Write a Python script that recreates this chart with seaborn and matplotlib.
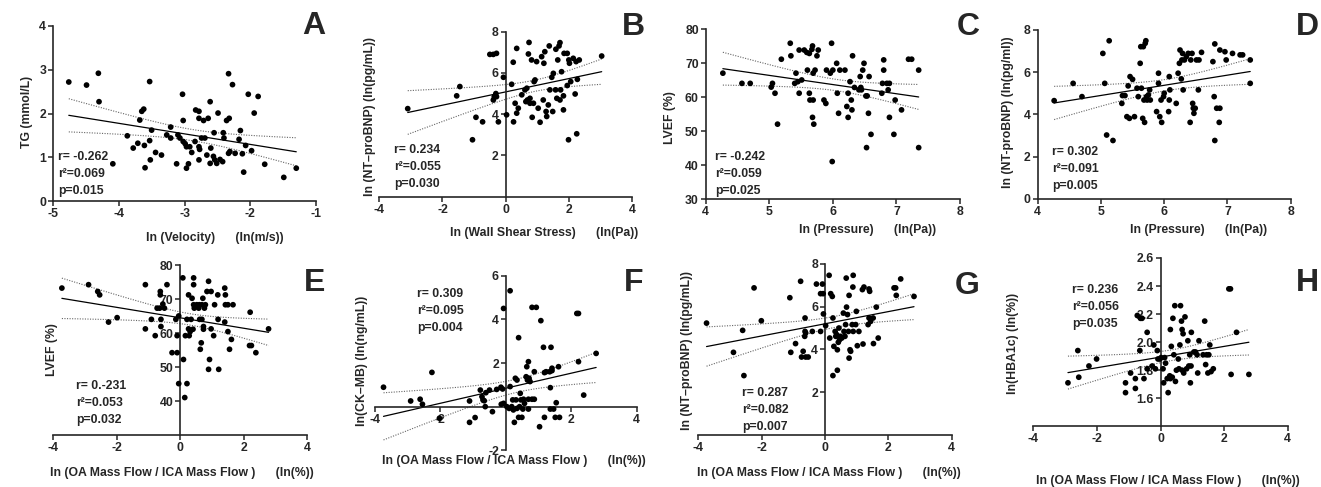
import numpy as np
import matplotlib
matplotlib.use("Agg")
import matplotlib.pyplot as plt
import seaborn as sns

# ---- data ----
# A: TG vs ln(velocity)
a_x = [-4.76,-4.49,-4.31,-4.30,-4.09,-3.87,-3.68,-3.65,-3.62,-3.78,-3.71,-3.61,-3.60,-3.53,-3.53,-3.52,-3.50,-3.44,-3.35,-3.27,
       -3.21,-3.21,-3.12,-3.10,-3.07,-3.03,-3.02,-3.02,-2.99,-2.97,-2.94,-2.97,-2.92,-2.89,-2.84,-2.83,-2.78,-2.78,-2.78,-2.77,
       -2.78,-2.74,-2.71,-2.69,-2.66,-2.64,-2.61,-2.61,-2.60,-2.56,-2.55,-2.54,-2.51,-2.49,-2.46,-2.42,-2.41,-2.40,-2.36,-2.33,
       -2.33,-2.32,-2.31,-2.27,-2.23,-2.17,-2.15,-2.12,-2.10,-2.07,-2.03,-1.98,-1.94,-1.88,-1.78,-1.49,-1.30]
a_y = [2.72,2.65,2.92,2.27,0.85,1.49,1.85,2.05,2.10,1.21,1.32,1.27,0.76,1.38,2.73,0.94,1.62,1.11,1.05,1.51,
       1.69,1.44,0.85,1.51,1.44,2.44,1.84,1.36,1.31,1.24,0.85,0.75,1.24,1.11,1.36,2.08,2.05,1.89,1.24,1.18,
       0.94,1.44,1.84,1.44,1.05,1.89,2.27,0.86,1.21,1.02,1.56,0.94,0.86,2.01,0.95,0.90,1.56,1.44,1.84,2.91,
       1.09,1.89,1.13,2.66,1.09,1.41,1.61,1.08,0.66,1.27,2.44,1.15,2.01,2.39,0.84,0.54,0.75]

# B: NT-proBNP vs ln(wall shear stress)
b_x = [-3.10,-1.55,-1.45,-1.05,-0.94,-0.73,-0.50,-0.39,-0.29,-0.39,-0.36,-0.31,-0.29,-0.23,-0.07,0.03,0.19,0.24,0.25,0.30,
       0.35,0.35,0.40,0.51,0.61,0.64,0.67,0.69,0.72,0.74,0.77,0.77,0.82,0.84,0.88,0.90,0.93,0.98,1.03,1.09,
       1.14,1.19,1.21,1.24,1.28,1.30,1.35,1.38,1.40,1.46,1.49,1.51,1.58,1.59,1.62,1.65,1.69,1.72,1.72,1.74,
       1.77,1.83,1.83,1.85,1.95,1.95,1.99,2.00,2.02,2.06,2.14,2.20,2.23,2.25,2.27,2.33,3.04]
b_y = [4.27,4.89,5.34,2.76,3.85,3.63,6.90,6.90,6.95,4.69,4.85,5.00,4.85,3.63,5.79,3.97,5.45,6.52,3.63,4.53,
       7.19,4.05,4.29,4.94,5.18,4.61,5.26,4.69,6.92,7.48,4.53,4.77,6.63,3.85,4.53,5.58,5.66,6.55,4.29,3.61,
       6.79,4.69,6.47,7.03,4.13,3.89,4.45,7.31,5.18,5.79,4.13,5.98,5.18,7.15,4.77,6.63,7.31,7.47,4.69,5.18,
       6.06,4.89,4.21,6.95,6.95,5.39,2.76,6.63,6.47,5.58,6.71,4.98,6.55,3.05,5.69,6.63,6.82]

# C: LVEF vs ln(pressure)
c_x = [4.27,4.57,4.70,5.03,5.05,5.09,5.13,5.19,5.33,5.34,5.40,5.42,5.45,5.47,5.47,5.51,5.55,5.59,5.60,5.63,
       5.63,5.64,5.67,5.68,5.68,5.69,5.69,5.70,5.72,5.75,5.77,5.86,5.89,5.90,5.96,5.98,5.99,6.00,6.06,6.07,
       6.09,6.11,6.19,6.22,6.24,6.24,6.27,6.29,6.30,6.31,6.34,6.41,6.43,6.44,6.45,6.47,6.49,6.52,6.53,6.54,
       6.56,6.57,6.60,6.77,6.78,6.80,6.80,6.85,6.87,6.89,6.89,6.98,6.96,7.08,7.19,7.24,7.35,7.35]
c_y = [67.1,64.1,64.1,63.0,64.1,61.2,52.1,71.2,75.9,72.2,64.1,67.1,64.6,61.2,73.9,65.1,73.9,73.2,68.0,72.9,
       61.2,59.2,74.1,75.1,54.1,59.2,67.1,52.1,68.0,72.2,73.9,59.2,58.2,68.0,67.1,75.9,41.1,68.0,70.0,61.2,
       55.3,68.0,68.0,57.3,61.2,54.1,64.6,59.2,56.3,72.2,62.9,62.2,66.1,62.9,62.2,68.0,70.0,60.4,45.2,60.4,
       55.3,66.1,49.1,61.2,64.1,68.0,71.0,64.1,62.2,64.1,54.1,59.2,49.1,56.3,71.2,71.2,45.2,68.0]

# D: NT-proBNP vs ln(pressure)
d_x = [4.26,4.56,4.70,5.03,5.06,5.09,5.13,5.19,5.33,5.34,5.38,5.41,5.43,5.45,5.46,5.50,5.53,5.57,5.59,5.62,
       5.63,5.64,5.66,5.67,5.68,5.69,5.70,5.71,5.72,5.73,5.75,5.77,5.78,5.88,5.91,5.91,5.93,5.95,5.96,5.99,
       6.00,6.07,6.08,6.08,6.09,6.19,6.22,6.24,6.25,6.27,6.28,6.29,6.30,6.32,6.35,6.38,6.41,6.42,6.44,6.45,
       6.46,6.47,6.49,6.51,6.54,6.55,6.59,6.77,6.79,6.80,6.80,6.83,6.87,6.88,6.88,6.96,6.98,7.08,7.20,7.24,
       7.36,7.36]
d_y = [4.65,5.47,4.84,6.89,5.47,3.02,7.49,2.76,4.52,4.89,4.89,3.89,5.35,3.81,5.79,5.66,3.89,5.24,4.84,6.42,
       7.21,5.24,3.81,7.21,4.68,3.62,7.37,7.49,4.84,4.68,4.92,5.16,4.68,4.13,5.47,5.95,3.89,4.68,3.62,4.84,
       5.00,4.13,4.68,5.79,5.16,4.52,5.95,6.42,7.05,5.68,6.58,6.89,5.16,6.58,6.74,6.89,3.62,6.58,6.89,4.52,
       4.29,4.05,4.29,6.58,5.16,6.58,6.94,6.50,4.84,2.76,7.34,4.29,3.62,4.29,7.05,6.97,6.58,6.89,6.82,6.82,
       6.58,5.47]

# E: LVEF vs ln(OA/ICA mass flow)
e_x = [-3.73,-2.89,-2.60,-2.54,-2.26,-1.99,-1.10,-1.10,-0.79,-0.73,-0.65,-0.63,-0.63,-0.61,-0.61,-0.55,-0.50,-0.42,-0.91,-0.26,
       -0.10,-0.14,-0.10,-0.05,-0.05,0.08,0.10,0.14,0.21,0.16,0.21,0.26,0.26,0.28,0.31,0.34,0.37,0.40,0.42,0.42,
       0.42,0.44,0.52,0.58,0.60,0.61,0.63,0.66,0.68,0.68,0.71,0.73,0.73,0.76,0.79,0.84,0.89,0.89,0.92,0.97,
       0.97,1.05,1.08,1.18,1.19,1.21,1.40,1.40,1.42,1.42,1.50,1.50,1.55,1.61,1.66,2.20,2.18,2.24,2.38,2.78]
e_y = [73.3,74.3,72.3,71.3,63.3,64.6,74.3,61.3,59.3,67.4,67.4,72.3,71.3,64.1,62.0,68.6,67.4,74.3,64.1,54.3,
       54.3,64.1,59.3,45.2,65.1,76.3,52.3,41.1,45.2,59.3,64.1,71.3,61.3,59.3,60.5,64.1,70.3,61.2,76.3,74.3,
       68.4,67.4,68.4,67.4,68.4,64.1,55.3,57.2,64.1,68.4,70.3,61.2,62.0,67.4,68.4,72.3,75.3,49.4,52.3,72.3,
       61.3,59.3,68.4,71.3,64.1,49.4,73.3,63.3,71.3,68.4,68.4,60.5,55.3,58.2,68.4,66.2,56.4,56.4,54.3,61.3]

# F: CK-MB vs ln(OA/ICA mass flow)
f_x = [-3.74,-2.91,-2.62,-2.55,-2.26,-2.03,-1.11,-1.11,-0.94,-0.78,-0.73,-0.70,-0.66,-0.63,-0.61,-0.50,-0.41,-0.28,-0.15,-0.10,
       -0.14,-0.07,-0.07,0.13,0.13,0.03,0.10,0.18,0.21,0.23,0.26,0.29,0.31,0.34,0.34,0.39,0.39,0.42,0.44,0.46,
       0.49,0.52,0.54,0.57,0.62,0.64,0.66,0.69,0.69,0.71,0.74,0.80,0.80,0.87,0.87,0.93,1.03,1.07,1.18,1.18,
       1.23,1.15,1.34,1.36,1.36,1.38,1.41,1.41,1.46,1.51,1.54,1.61,1.64,2.17,2.22,2.22,2.38,2.76,0.69]
f_y = [0.89,0.26,0.34,0.11,1.57,-0.53,-0.72,0.26,-0.50,0.76,0.46,0.31,0.27,0.00,0.64,0.76,-0.23,0.79,0.89,0.81,
       0.11,0.15,4.50,5.31,0.92,0.00,-0.08,0.00,0.31,-0.15,-0.72,1.30,0.31,1.22,-0.08,-0.49,3.16,0.00,0.61,0.31,
       -0.49,-0.11,0.34,0.15,1.37,1.83,1.22,2.06,0.34,1.30,1.15,4.55,0.34,1.60,0.34,4.55,-0.92,3.94,1.56,-0.49,
       1.60,2.72,1.60,0.87,-0.11,2.72,1.76,1.65,-0.11,-0.49,0.18,1.83,-0.49,4.27,4.27,2.06,0.53,2.44,-0.11]

# G: NT-proBNP vs ln(OA/ICA mass flow)
g_x = [-3.74,-2.89,-2.60,-2.56,-2.24,-2.01,-1.11,-1.08,-0.93,-0.77,-0.74,-0.69,-0.64,-0.63,-0.63,-0.61,-0.61,-0.53,-0.40,-0.27,
       -0.14,-0.08,-0.06,-0.05,-0.14,0.02,0.13,0.15,0.18,0.23,0.25,0.25,0.28,0.32,0.34,0.37,0.39,0.39,0.42,0.44,
       0.46,0.49,0.53,0.58,0.60,0.63,0.65,0.67,0.68,0.71,0.74,0.76,0.76,0.79,0.81,0.86,0.88,0.89,0.89,0.97,
       0.99,1.02,1.07,1.18,1.20,1.23,1.36,1.39,1.39,1.41,1.44,1.52,1.53,1.62,1.68,2.18,2.23,2.25,2.39,2.81]
g_y = [5.23,3.86,4.89,2.77,6.88,5.34,6.42,3.86,4.27,7.19,3.64,3.91,4.61,4.84,5.47,3.64,4.77,3.64,4.84,7.06,
       6.61,7.06,6.61,5.66,4.84,5.11,7.47,4.53,6.61,6.48,5.47,2.77,4.14,4.84,4.61,4.69,3.02,3.98,4.33,5.00,
       4.45,4.61,4.53,5.70,4.84,4.61,5.16,7.34,5.98,5.63,4.84,3.59,6.53,3.98,3.91,5.16,6.92,7.47,4.84,5.16,
       5.78,4.17,4.84,6.80,4.25,6.92,5.16,6.83,5.47,6.72,5.31,5.47,4.27,5.98,4.53,6.88,6.88,6.53,7.30,6.48]

# H: HBA1c vs ln(OA/ICA mass flow)
h_x = [-2.91,-2.60,-2.57,-2.25,-2.01,-1.10,-1.10,-0.94,-0.79,-0.79,-0.73,-0.65,-0.63,-0.58,-0.52,-0.42,-0.42,-0.26,-0.21,-0.16,
       -0.10,-0.08,-0.02,0.02,0.08,0.10,0.13,0.16,0.21,0.24,0.29,0.31,0.31,0.34,0.37,0.39,0.42,0.45,0.47,0.50,
       0.56,0.58,0.61,0.63,0.66,0.68,0.68,0.71,0.73,0.77,0.82,0.86,0.89,0.92,0.94,0.96,0.97,1.05,1.10,1.15,
       1.17,1.21,1.34,1.39,1.42,1.45,1.49,1.52,1.55,1.59,1.66,2.15,2.20,2.22,2.39,2.78]
h_y = [1.71,1.94,1.75,1.83,1.88,1.71,1.64,1.78,1.74,1.67,2.19,1.94,2.17,2.17,1.74,2.07,1.81,1.83,1.98,1.81,
       1.94,1.88,1.88,1.89,1.81,1.71,1.89,1.85,1.74,1.64,1.76,2.09,1.74,1.97,1.75,2.17,1.91,2.26,1.72,1.80,
       1.88,1.81,1.98,2.26,2.15,1.80,2.09,2.06,1.78,2.18,1.81,2.01,1.83,1.91,1.71,1.83,2.07,1.93,1.93,1.91,
       1.78,2.01,1.91,2.15,1.84,1.91,1.78,1.91,1.98,1.79,1.81,2.38,2.38,1.77,2.07,1.77]

W, H = 1321, 487
FS = 8.8
BOLD = dict(fontsize=FS, fontweight="bold")
GAP = "      "   # wide gap Prism leaves before the unit part of the label

sns.set_theme(style="ticks")
plt.rcParams["font.family"] = ["Liberation Sans", "DejaVu Sans"]
plt.rcParams["font.weight"] = "bold"
plt.rcParams["axes.unicode_minus"] = False

fig = plt.figure(figsize=(W / 100, H / 100), dpi=100)


def px_box(l, r, t, b):
    return [l / W, 1 - b / H, (r - l) / W, (b - t) / H]


def ftext(x, y, s, **kw):
    fig.text(x / W, 1 - y / H, s, **kw)


def fit_lines(ax, x, y):
    # linear fit plus 95% confidence band (Prism style dotted curves)
    x = np.asarray(x, float)
    y = np.asarray(y, float)
    n = len(x)
    slope, icpt = np.polyfit(x, y, 1)
    xs = np.linspace(x.min(), x.max(), 120)
    yh = icpt + slope * xs
    s = np.sqrt(((y - (icpt + slope * x)) ** 2).sum() / (n - 2))
    se = s * np.sqrt(1 / n + (xs - x.mean()) ** 2 / ((x - x.mean()) ** 2).sum())
    ax.plot(xs, yh, color="black", lw=0.9, zorder=2)
    for sign in (1, -1):
        ax.plot(xs, yh + sign * 1.99 * se, color="#666666", lw=0.8,
                ls=(0, (1, 1.3)), zorder=2)


def panel(box, x, y, xlim, ylim, xticks, yticks, xcross=None, ycross=None):
    ax = fig.add_axes(px_box(*box))
    sns.scatterplot(x=x, y=y, ax=ax, color="black", s=17, edgecolor="none", zorder=3)
    fit_lines(ax, x, y)
    ax.set_xlim(*xlim)
    ax.set_ylim(*ylim)
    ax.set_xticks(xticks)
    ax.set_yticks(yticks)
    ax.set_xlabel("")
    ax.set_ylabel("")
    for side in ("top", "right"):
        ax.spines[side].set_visible(False)
    for side in ("left", "bottom"):
        ax.spines[side].set_linewidth(1.2)
    if xcross is not None:
        ax.spines["left"].set_position(("data", xcross))
    if ycross is not None:
        ax.spines["bottom"].set_position(("data", ycross))
    ax.tick_params(width=1.1, length=3.5, labelsize=FS, pad=1.5)
    for lab in ax.get_xticklabels() + ax.get_yticklabels():
        lab.set_fontweight("bold")
    ax.patch.set_alpha(0)
    return ax


panel((53, 316, 26, 201), a_x, a_y, (-5, -1), (0, 4), [-5, -4, -3, -2, -1], [0, 1, 2, 3, 4])
panel((379.3, 632, 31.7, 196.7), b_x, b_y, (-4, 4), (0, 8), [-4, -2, 0, 2, 4], [2, 4, 6, 8], xcross=0)
panel((705.7, 960, 29.3, 199.3), c_x, c_y, (4, 8), (30, 80), [4, 5, 6, 7, 8], [30, 40, 50, 60, 70, 80])
panel((1037.7, 1290.7, 30, 198.7), d_x, d_y, (4, 8), (0, 8), [4, 5, 6, 7, 8], [0, 2, 4, 6, 8])
panel((53.3, 307.3, 265.3, 435.3), e_x, e_y, (-4, 4), (30, 80), [-4, -2, 0, 2, 4], [40, 50, 60, 70, 80], xcross=0)
panel((375, 636.7, 275.7, 450.3), f_x, f_y, (-4, 4), (-2, 6), [-4, -2, 2, 4], [-2, 2, 4, 6], xcross=0, ycross=0)
panel((698.3, 951.7, 264, 434.7), g_x, g_y, (-4, 4), (0, 8), [-4, -2, 0, 2, 4], [2, 4, 6, 8], xcross=0)
panel((1033.3, 1287.7, 258, 426.3), h_x, h_y, (-4, 4), (1.4, 2.6), [-4, -2, 0, 2, 4],
      [1.6, 1.8, 2.0, 2.2, 2.4, 2.6], xcross=0)

# axis labels
xlabels = [
    (215, 238, "ln (Velocity)" + GAP + "(ln(m/s))"),
    (544, 233, "ln (Wall Shear Stress)" + GAP + "(ln(Pa))"),
    (868, 230, "ln (Pressure)" + GAP + "(ln(Pa))"),
    (1199, 230, "ln (Pressure)" + GAP + "(ln(Pa))"),
    (182, 473, "ln (OA Mass Flow / ICA Mass Flow )" + GAP + "(ln(%))"),
    (514, 461, "ln (OA Mass Flow / ICA Mass Flow )" + GAP + "(ln(%))"),
    (829, 473, "ln (OA Mass Flow / ICA Mass Flow )" + GAP + "(ln(%))"),
    (1168, 481, "ln (OA Mass Flow / ICA Mass Flow )" + GAP + "(ln(%))"),
]
for x, y, s in xlabels:
    ftext(x, y, s, ha="center", va="center", **BOLD)

ylabels = [
    (27, 112, "TG (mmol/L)"),
    (370, 117, "ln (NT–proBNP) (ln(pg/mL))"),
    (670, 118, "LVEF (%)"),
    (1008, 112, "ln (NT-proBNP) (ln(pg/ml))"),
    (52, 350, "LVEF (%)"),
    (362, 361, "ln(CK–MB) (ln(ng/mL))"),
    (687, 350, "ln (NT–proBNP) (ln(pg/mL))"),
    (1013, 343, "ln(HBA1c) (ln(%))"),
]
for x, y, s in ylabels:
    ftext(x, y, s, ha="center", va="center", rotation=90, **BOLD)

# correlation statistics
stats = [
    (58, 157, ["r= -0.262", "r²=0.069", "p=0.015"]),
    (394, 150, ["r= 0.234", "r²=0.055", "p=0.030"]),
    (715, 157, ["r= -0.242", "r²=0.059", "p=0.025"]),
    (1052, 152, ["r= 0.302", "r²=0.091", "p=0.005"]),
    (76, 386, ["r= 0.-231", "r²=0.053", "p=0.032"]),
    (417, 294, ["r= 0.309", "r²=0.095", "p=0.004"]),
    (742, 393, ["r= 0.287", "r²=0.082", "p=0.007"]),
    (1072, 290, ["r= 0.236", "r²=0.056", "p=0.035"]),
]
for x, y, lines in stats:
    for i, s in enumerate(lines):
        ftext(x, y + i * 17, s, ha="left", va="center", **BOLD)

# panel letters
letters = [("A", 314, 26), ("B", 633, 27), ("C", 968, 27), ("D", 1307, 27),
           ("E", 315, 283), ("F", 634, 283), ("G", 967, 286), ("H", 1307, 283)]
for s, x, y in letters:
    ftext(x, y, s, ha="center", va="center", fontsize=23, fontweight="bold")

fig.savefig("out.png", dpi=100)
